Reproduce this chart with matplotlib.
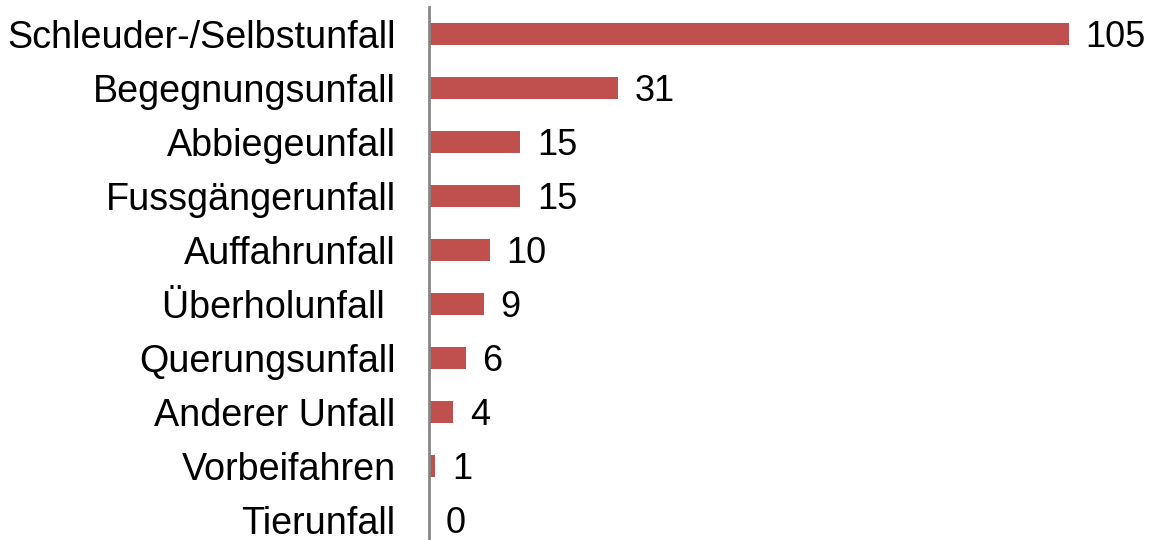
import matplotlib.pyplot as plt

# Unfalltypen und Anzahl
categories = ["Schleuder-/Selbstunfall", "Begegnungsunfall", "Abbiegeunfall",
              "Fussgängerunfall", "Auffahrunfall", "Überholunfall ",
              "Querungsunfall", "Anderer Unfall", "Vorbeifahren", "Tierunfall"]
values = [105, 31, 15, 15, 10, 9, 6, 4, 1, 0]

plt.rcParams['font.family'] = ['Liberation Sans', 'DejaVu Sans']

fig = plt.figure(figsize=(11.59, 5.40), dpi=100)
ax = fig.add_axes([429 / 1159, -7 / 540, (1068.7 - 429) / 1159, 1.0])

pos = range(len(categories))
ax.barh(pos, values, height=0.39, color='#C0504D')

# Werte rechts neben den Balken
for y, v in zip(pos, values):
    ax.annotate(str(v), (v, y), xytext=(12, -9.5), textcoords='offset points',
                ha='left', va='baseline', fontsize=26, clip_on=False)

ax.set_xlim(0, 105)
ax.set_ylim(9.5, -0.5)
ax.set_yticks(list(pos))
ax.set_yticklabels(categories, fontsize=27.2)
ax.tick_params(axis='y', length=0, pad=24)
ax.set_xticks([])

for side in ['top', 'right', 'bottom']:
    ax.spines[side].set_visible(False)
ax.spines['left'].set_color('#868686')
ax.spines['left'].set_linewidth(2)

fig.savefig('out.png', dpi=100)
